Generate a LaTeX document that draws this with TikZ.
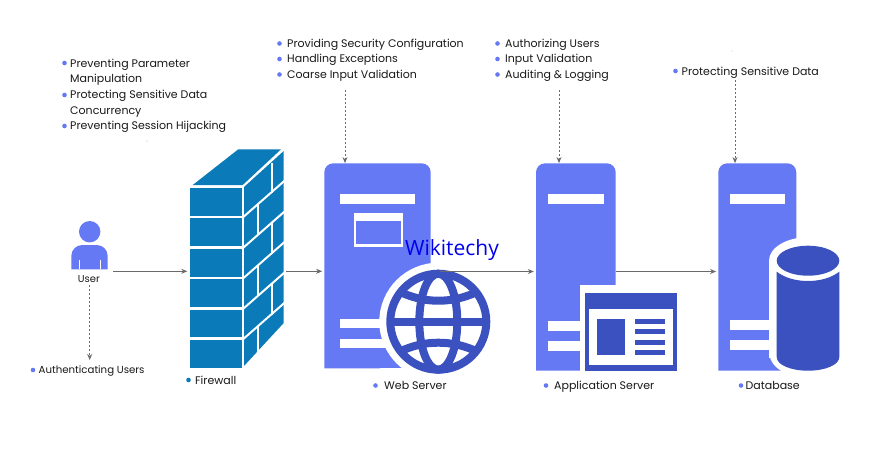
\documentclass[tikz,border=0pt]{standalone}
\usepackage{fontspec}
\setmainfont{Poppins}
\newfontfamily\wikifont{Open Sans}
\usetikzlibrary{arrows.meta}
\definecolor{srvblue}{HTML}{6579F5}
\definecolor{darkblue}{HTML}{3B51C0}
\definecolor{wallblue}{HTML}{0A7AB8}
\definecolor{linegray}{HTML}{6A6A6A}
\tikzset{
  box/.style={inner sep=0pt,minimum width=#1},
  lbl/.style={anchor=base west,inner sep=0pt,font=\fontsize{11}{13}\selectfont,text=black!90},
  dot/.style={circle,inner sep=0pt,minimum size=4.6pt,fill=#1},
  flow/.style={draw=linegray,line width=0.9pt,-{Stealth[length=6pt,width=5pt]}},
  dflow/.style={flow,line width=1pt,dash pattern=on 2.4pt off 1.6pt},
  srv/.style={fill=srvblue},
  bar/.style={fill=white},
  ink/.style={fill=darkblue},
}
\begin{document}
\begin{tikzpicture}[x=1pt,y=-1pt]
\useasboundingbox (0,0) rectangle (885,448);
\fill[white] (0,0) rectangle (885,448);

% anchor boxes
\node[box=36.4,minimum height=48] (user) at (89.5,245.3) {};
\node[box=94.2,minimum height=219] (fw) at (236.6,258.5) {};
\node[box=106.4,minimum height=205] (web) at (377.5,265.8) {};
\node[box=79.7,minimum height=207.4] (app) at (575.85,267) {};
\node[box=78,minimum height=207.4] (db) at (757.3,267) {};

\coordinate (uo) at (113,271.3);
\coordinate (fo) at (286,271.3);
\coordinate (wo) at (440,271.5);
\coordinate (ao) at (616,271.5);
\coordinate (gw) at (345,90);
\coordinate (ga) at (559,90);
\coordinate (gd) at (735,80);
\coordinate (gu) at (89.7,285);
\coordinate (au) at (89.7,360);

% connectors
\draw[flow] (uo) -- ([xshift=-2pt]fw.west |- uo);
\draw[flow] (fo) -- ([xshift=-2pt]web.west |- fo);
\draw[flow] (ao) -- ([xshift=-2pt]db.west |- ao);
\draw[dflow] (gw) -- (web.north -| gw);
\draw[dflow] (ga) -- (app.north -| ga);
\draw[dflow] (gd) -- (db.north -| gd);
\draw[dflow] (gu) -- (au);

% user icon
\fill[srv] (89.7,231.7) circle (10.7);
\fill[srv,rounded corners=11pt] (71.3,269.3) -- (71.3,245) -- (107.7,245) [sharp corners] -- (107.7,269.3) -- cycle;
\draw[white,line width=0.8pt] (79,260) -- (79,269.3) (100.7,260) -- (100.7,269.3);

% firewall
\fill[wallblue] (192.7,185) -- (238.3,149.3) -- (281,149.3) -- (242.7,185) -- cycle;
\foreach \a/\b in {188.3/215.7,218.3/246,249.3/276.7,279.3/307,310/337.3,340/368}
  \fill[wallblue] (189.5,\a) rectangle (242.3,\b);
\fill[wallblue] (244,187) -- (283.7,151) -- (283.7,323) -- (244,366) -- cycle;
\foreach \y in {216.8,247.5,278,308.5,338.8}
  \draw[white,line width=2pt] (243.5,\y) -- (284.5,\y-36);
\foreach \x/\y in {271.7/187,258/216.8,271.7/247.5,258/278,271.7/308.5,258/338.8}
  \draw[white,line width=2pt] (\x,{\y-0.88*(\x-244)}) -- (\x,{\y+30.5-0.88*(\x-244)});

% web server
\fill[srv,rounded corners=9pt] (324.3,368.3) -- (324.3,163.3) -- (430.7,163.3) [sharp corners] -- (430.7,368.3) -- cycle;
\fill[bar] (340.3,194.3) rectangle (415,204);
\fill[bar] (340.3,318.7) rectangle (400,328.3);
\fill[bar] (340.3,338.7) rectangle (400,348.3);
\fill[bar] (353.5,213.3) rectangle (403.3,246.7);
\fill[srv] (355.7,220.7) rectangle (401,244.3);
\fill[white] (438.3,321.7) circle (59);
\fill[white] (380,368.3) -- (380,372) -- (440,372) -- (440,368.3) -- cycle;
\draw[darkblue,line width=8pt] (438.3,321.7) circle (48);
\draw[darkblue,line width=8pt] (438.3,321.7) ellipse [x radius=19,y radius=48];
\draw[darkblue,line width=8pt] (390,321.7) -- (487,321.7);
\begin{scope}
\clip (438.3,321.7) circle (50);
\draw[darkblue,line width=8pt] (396,290) .. controls (412,298) and (425,300.7) .. (438.3,300.7) .. controls (452,300.7) and (465,298) .. (481,290);
\draw[darkblue,line width=8pt] (396,353.4) .. controls (412,345.4) and (425,342.7) .. (438.3,342.7) .. controls (452,342.7) and (465,345.4) .. (481,353.4);
\end{scope}
\draw[flow] (wo) -- ([xshift=-2pt]app.west |- wo);

% application server
\fill[srv,rounded corners=9pt] (536,370.7) -- (536,163.3) -- (615.7,163.3) [sharp corners] -- (615.7,370.7) -- cycle;
\fill[bar] (548,194) rectangle (603.7,204);
\fill[bar] (548,320.7) rectangle (580,330.7);
\fill[bar] (548,341) rectangle (580,351);
\fill[white] (580,285.3) rectangle (620,372);
\fill[ink] (585.3,292.7) rectangle (677,370.7);
\fill[white] (589.3,309.3) rectangle (672.7,364.7);
\fill[ink] (596.7,319.3) rectangle (624.7,354.7);
\foreach \a/\b in {319.3/324.3,329.3/334.3,339.7/344.7,349.7/354.7}
  \fill[ink] (634.7,\a) rectangle (665,\b);

% database
\fill[srv,rounded corners=9pt] (718.3,370.7) -- (718.3,163.3) -- (796.3,163.3) [sharp corners] -- (796.3,370.7) -- cycle;
\fill[bar] (730,194.3) rectangle (784.7,204.3);
\fill[bar] (730,320.3) rectangle (775,330.3);
\fill[bar] (730,340.3) rectangle (775,350.3);
\fill[white] (808,260.7) ellipse [x radius=39,y radius=23.5];
\fill[white] (769,260.7) rectangle (847,358);
\fill[white] (808,352) ellipse [x radius=39,y radius=26];
\fill[ink] (808,260.7) ellipse [x radius=31.3,y radius=15];
\fill[ink] (776.7,271.7) .. controls (785,278) and (796,281) .. (808,281) .. controls (820,281) and (831,278) .. (839.3,271.7) -- (839.3,357) .. controls (839.3,365) and (825,370.7) .. (808,370.7) .. controls (791,370.7) and (776.7,365) .. (776.7,357) -- cycle;

% watermark
\node[inner sep=0pt,text=blue!93!black,font=\wikifont\fontsize{21}{23}\selectfont] (wiki) at (452,250) {Wikitechy};

% labels
\node[lbl] (t1) at (70,67) {Preventing Parameter};
\node[lbl] (t2) at (70,82.6) {Manipulation};
\node[lbl] (t3) at (70,98.4) {Protecting Sensitive Data};
\node[lbl] (t4) at (70,114) {Concurrency};
\node[lbl] (t5) at (70,129.8) {Preventing Session Hijacking};
\node[dot=srvblue] (d1) at (64.5,63) {};
\node[dot=srvblue] (d3) at (64.5,95) {};
\node[dot=srvblue] (d5) at (64.5,126) {};

\node[lbl] (w1) at (287,47.3) {Providing Security Configuration};
\node[lbl] (w2) at (287,62.9) {Handling Exceptions};
\node[lbl] (w3) at (287,78.5) {Coarse Input Validation};
\node[dot=srvblue] (wd1) at (279.5,43.5) {};
\node[dot=srvblue] (wd2) at (279.5,59) {};
\node[dot=srvblue] (wd3) at (279.5,74.5) {};

\node[lbl] (a1) at (505,47.3) {Authorizing Users};
\node[lbl] (a2) at (505,62.9) {Input Validation};
\node[lbl] (a3) at (505,78.5) {Auditing \& Logging};
\node[dot=srvblue] (ad1) at (497.5,43.5) {};
\node[dot=srvblue] (ad2) at (497.5,59) {};
\node[dot=srvblue] (ad3) at (497.5,74.5) {};

\node[lbl] (b1) at (681.5,75) {Protecting Sensitive Data};
\node[dot=srvblue] (bd1) at (675.5,71) {};

\node[lbl,font=\fontsize{10}{12}\selectfont] (u1) at (77.7,282) {User};
\node[lbl,font=\fontsize{10.2}{12}\selectfont] (u2) at (38.5,373.2) {Authenticating Users};
\node[dot=srvblue] (ud2) at (33,370) {};

\node[lbl] (n1) at (195,384) {Firewall};
\node[dot=wallblue] (nd1) at (188.5,380) {};
\node[lbl] (n2) at (384,389) {Web Server};
\node[dot=srvblue] (nd2) at (375.5,385.5) {};
\node[lbl] (n3) at (554,389) {Application Server};
\node[dot=srvblue] (nd3) at (546,385.5) {};
\node[lbl] (n4) at (745.5,389) {Database};
\node[dot=srvblue] (nd4) at (741,385.5) {};

% stray specks
\fill[linegray!60] (147,141) circle (0.5);
\fill[linegray!60] (732,51) circle (0.5);
\end{tikzpicture}
\end{document}
